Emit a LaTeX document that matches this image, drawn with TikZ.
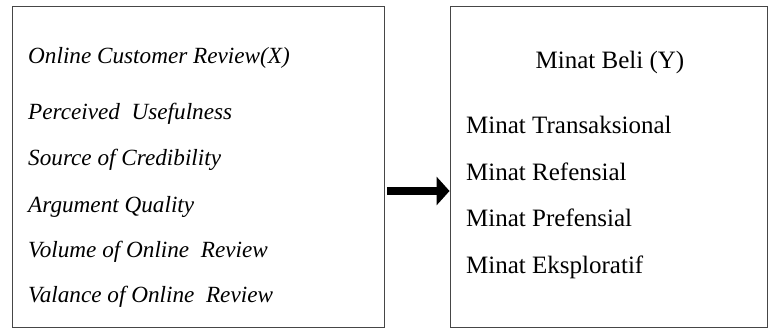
\documentclass[tikz,border=0pt]{standalone}
\usepackage{fontspec}
\setmainfont{Liberation Serif}
\usetikzlibrary{arrows.meta,positioning}
\definecolor{frameline}{RGB}{70,70,70}

\begin{document}
\begin{tikzpicture}[x=1pt, y=-1pt,
    every node/.style={font=\fontsize{25}{29}\selectfont, inner sep=0pt},
    varbox/.style={draw=frameline, line width=0.9pt},
    itemX/.style={anchor=west, font=\fontsize{23.2}{27}\selectfont\itshape},
    itemY/.style={anchor=west},
    bigarrow/.style={line width=8pt, -{Triangle[length=13pt, width=28pt]}}]
  \useasboundingbox (0,0) rectangle (774,329);
  % the two boxes
  \node[varbox, minimum width=372pt, minimum height=321pt] (xbox) at (198,166.5) {};
  \node[varbox, minimum width=317pt, minimum height=321pt] (ybox) at (608.5,166.5) {};
  % variable X
  \node[itemX] (xhead) at (28,58) {Online Customer Review(X)};
  \foreach \lbl/\yy/\nm in {Perceived\ \ Usefulness/114/x1, Source of Credibility/160/x2,
      Argument Quality/207/x3, Volume\ of Online\ \ Review/252/x4,
      Valance of Online\ \ Review/297/x5} {
    \node[itemX] (\nm) at (28,\yy) {\lbl};
  }
  % variable Y
  \node (yhead) at (610,62) {Minat Beli (Y)};
  \foreach \lbl/\yy/\nm in {Minat Transaksional/125/y1, Minat Refensial/172/y2,
      Minat Prefensial/218/y3, Minat Eksploratif/267/y4} {
    \node[itemY] (\nm) at (466,\yy) {\lbl};
  }
  \draw[bigarrow] ([xshift=3pt, yshift=-24.5pt]xbox.east) -- ([yshift=-24.5pt]ybox.west);
\end{tikzpicture}
\end{document}
